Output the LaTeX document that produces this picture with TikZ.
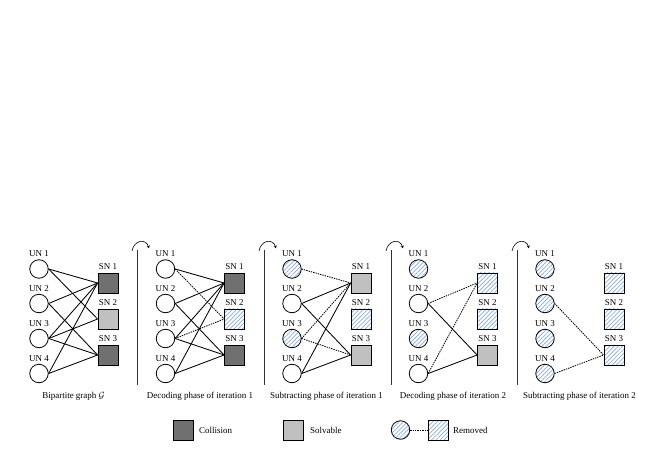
\documentclass[tikz,border=0pt]{standalone}
\usepackage{fontspec}
\setmainfont{Liberation Serif}
\usetikzlibrary{patterns.meta,arrows.meta}
\definecolor{coll}{RGB}{112,112,112}
\definecolor{solv}{RGB}{192,192,192}
\definecolor{hatch}{RGB}{135,170,225}
\tikzset{
 un/.style={circle, draw, line width=0.8pt, minimum size=18.5bp, inner sep=0pt},
 unr/.style={un, pattern={Lines[angle=45,distance=3pt,line width=0.7pt]}, pattern color=hatch},
 sn/.style={rectangle, draw, line width=0.8pt, minimum size=20bp, inner sep=0pt},
 snc/.style={sn, fill=coll},
 sns/.style={sn, fill=solv},
 snr/.style={sn, pattern={Lines[angle=45,distance=3pt,line width=0.7pt]}, pattern color=hatch},
 lbl/.style={font=\fontsize{9}{10}\selectfont, inner sep=0pt},
 edg/.style={line width=0.85pt},
 dot/.style={line width=0.85pt, dash pattern=on 1.4pt off 1pt},
 divider/.style={line width=0.6pt, draw=black!80},
 turn/.style={line width=0.6pt, -{Stealth[length=3pt,width=3pt]}},
}
\begin{document}
\begin{tikzpicture}[x=1bp,y=-1bp]
\useasboundingbox (0,0) rectangle (664,470);
% ---------- panel 1
\node[un] (u11) at (39,269) {}; \node[un] (u12) at (39,303.5) {};
\node[un] (u13) at (39,338.5) {}; \node[un] (u14) at (39,373.5) {};
\node[snc] (s11) at (108,283) {}; \node[sns] (s12) at (108,319) {}; \node[snc] (s13) at (108,355) {};
% ---------- panel 2
\node[un] (u21) at (165.5,269) {}; \node[un] (u22) at (165.5,303.5) {};
\node[un] (u23) at (165.5,338.5) {}; \node[un] (u24) at (165.5,373.5) {};
\node[snc] (s21) at (234.5,283) {}; \node[snr] (s22) at (234.5,319) {}; \node[snc] (s23) at (234.5,355) {};
% ---------- panel 3
\node[unr] (u31) at (292,269) {}; \node[un] (u32) at (292,303.5) {};
\node[unr] (u33) at (292,338.5) {}; \node[un] (u34) at (292,373.5) {};
\node[sns] (s31) at (361,283) {}; \node[snr] (s32) at (361,319) {}; \node[sns] (s33) at (361,355) {};
% ---------- panel 4
\node[unr] (u41) at (418.5,269) {}; \node[un] (u42) at (418.5,303.5) {};
\node[unr] (u43) at (418.5,338.5) {}; \node[un] (u44) at (418.5,373.5) {};
\node[snr] (s41) at (487.5,283) {}; \node[snr] (s42) at (487.5,319) {}; \node[sns] (s43) at (487.5,355) {};
% ---------- panel 5
\node[unr] (u51) at (545,269) {}; \node[unr] (u52) at (545,303.5) {};
\node[unr] (u53) at (545,338.5) {}; \node[unr] (u54) at (545,373.5) {};
\node[snr] (s51) at (614,283) {}; \node[snr] (s52) at (614,319) {}; \node[snr] (s53) at (614,355) {};
% ---------- labels
\foreach \p in {1,...,5}{
  \foreach \i in {1,...,4}{
    \node[lbl, anchor=south] (lu\p\i) at ([yshift=2.5bp]u\p\i.north) {UN \i};
  }
  \foreach \i in {1,...,3}{
    \node[lbl, anchor=south] (ls\p\i) at ([yshift=2.5bp]s\p\i.north) {SN \i};
  }
}
% ---------- edges panel 1
\draw[edg] (u11.east) -- (s11.west); \draw[edg] (u11.east) -- (s12.west);
\draw[edg] (u12.east) -- (s11.west); \draw[edg] (u12.east) -- (s13.west);
\draw[edg] (u13.east) -- (s11.west); \draw[edg] (u13.east) -- (s12.west); \draw[edg] (u13.east) -- (s13.west);
\draw[edg] (u14.east) -- (s11.west); \draw[edg] (u14.east) -- (s13.west);
% ---------- edges panel 2
\draw[edg] (u21.east) -- (s21.west); \draw[dot] (u21.east) -- (s22.west);
\draw[edg] (u22.east) -- (s21.west); \draw[edg] (u22.east) -- (s23.west);
\draw[edg] (u23.east) -- (s21.west); \draw[dot] (u23.east) -- (s22.west); \draw[edg] (u23.east) -- (s23.west);
\draw[edg] (u24.east) -- (s21.west); \draw[edg] (u24.east) -- (s23.west);
% ---------- edges panel 3
\draw[dot] (u31.east) -- (s31.west);
\draw[edg] (u32.east) -- (s31.west); \draw[edg] (u32.east) -- (s33.west);
\draw[dot] (u33.east) -- (s31.west); \draw[dot] (u33.east) -- (s33.west);
\draw[edg] (u34.east) -- (s31.west); \draw[edg] (u34.east) -- (s33.west);
% ---------- edges panel 4
\draw[dot] (u42.east) -- (s41.west); \draw[edg] (u42.east) -- (s43.west);
\draw[dot] (u44.east) -- (s41.west); \draw[edg] (u44.east) -- (s43.west);
% ---------- edges panel 5
\draw[dot] (u52.east) -- (s53.west); \draw[dot] (u54.east) -- (s53.west);
% ---------- dividers and turn arrows
\foreach \d [count=\k] in {137,264,391,517}{
  \coordinate (dt\k) at (\d,250);
  \coordinate (db\k) at (\d,385);
  \coordinate (as\k) at (\d-5,251);
  \coordinate (ae\k) at (\d+12,248.5);
  \draw[divider] (dt\k) -- (db\k);
  \draw[turn] (as\k) .. controls (\d-3,240) and (\d+9,238) .. (ae\k);
}
% ---------- captions
\node[lbl] (c1) at (73.5,396) {Bipartite graph $\mathcal{G}$};
\node[lbl] (c2) at (200,396) {Decoding phase of iteration 1};
\node[lbl] (c3) at (326.5,396) {Subtracting phase of iteration 1};
\node[lbl] (c4) at (453,396) {Decoding phase of iteration 2};
\node[lbl] (c5) at (579.5,396) {Subtracting phase of iteration 2};
% ---------- legend
\node[snc] (lg1) at (183,430) {};
\node[lbl, anchor=west] (lt1) at (199,430) {Collision};
\node[sns] (lg2) at (293,430) {};
\node[lbl, anchor=west] (lt2) at (310,430) {Solvable};
\node[unr] (lg3) at (400.5,430) {};
\node[snr] (lg4) at (438,430) {};
\draw[dot] (lg3.east) -- (lg4.west);
\node[lbl, anchor=west] (lt3) at (453,430) {Removed};
\end{tikzpicture}
\end{document}
